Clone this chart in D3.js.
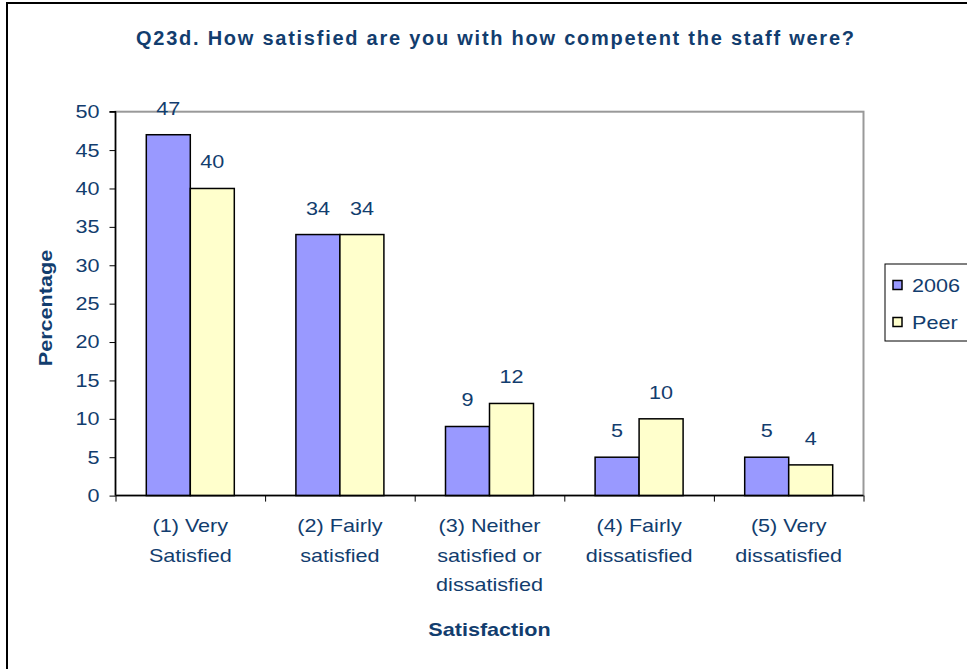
<!DOCTYPE html>
<html><head><meta charset="utf-8">
<script src="https://cdn.jsdelivr.net/npm/d3@7"></script>
<style>
html,body{margin:0;padding:0;background:#fff;}
svg{display:block;}
text{font-family:"Liberation Sans",Arial,sans-serif;}
</style></head>
<body>
<svg id="chart" width="967" height="669"></svg>
<script>
const categories = [["(1) Very","Satisfied"],["(2) Fairly","satisfied"],["(3) Neither","satisfied or","dissatisfied"],["(4) Fairly","dissatisfied"],["(5) Very","dissatisfied"]];
const seriesNames = ["2006","Peer"];
const values2006 = [47,34,9,5,5];
const valuesPeer = [40,34,12,10,4];
const yTicks = [0,5,10,15,20,25,30,35,40,45,50];
const colors = ["#9999FF","#FFFFCC"];
const textColor = "#123d6e";
const SX = 1.2;

const svg = d3.select("#chart");
svg.append("rect").attr("x",7).attr("y",3).attr("width",980).attr("height",700)
  .attr("fill","#fff").attr("stroke","#000").attr("stroke-width",2);

function txt(parent, x, y, s, o={}) {
  return parent.append("text")
    .attr("transform", `translate(${x},${y})${o.rotate?` rotate(${o.rotate})`:""} scale(${SX},1)`)
    .attr("text-anchor", o.anchor||"middle")
    .attr("font-size", o.size||18)
    .attr("font-weight", o.weight||"normal")
    .attr("fill", textColor).text(s);
}

const m = {left:115.5, right:863.5, top:111.7, bottom:495.6};
const x0 = d3.scaleBand().domain(d3.range(categories.length)).range([m.left,m.right]).paddingInner(0).paddingOuter(0);
const y = d3.scaleLinear().domain([0,50]).range([m.bottom,m.top]);
const bw = x0.bandwidth()/3.4;
const x1 = d3.scaleBand().domain([0,1]).range([x0.bandwidth()/2-bw, x0.bandwidth()/2+bw]).padding(0);

svg.append("rect").attr("x",m.left).attr("y",m.top).attr("width",m.right-m.left).attr("height",m.bottom-m.top)
  .attr("fill","#fff").attr("stroke","#999").attr("stroke-width",2);

// title
svg.append("text").attr("x",495).attr("y",45).attr("text-anchor","middle")
  .attr("font-size",20).attr("font-weight","bold").attr("fill",textColor)
  .attr("textLength",718).attr("lengthAdjust","spacing")
  .text("Q23d. How satisfied are you with how competent the staff were?");

// bars
const series = [values2006, valuesPeer];
series.forEach((vals,si)=>{
  svg.append("g").selectAll("rect").data(vals).join("rect")
    .attr("x",(d,i)=>x0(i)+x1(si)).attr("width",x1.bandwidth())
    .attr("y",d=>y(d)).attr("height",d=>y(0)-y(d))
    .attr("fill",colors[si]).attr("stroke","#000").attr("stroke-width",1.5);
  const g = svg.append("g");
  vals.forEach((d,i)=>txt(g, x0(i)+x1(si)+x1.bandwidth()/2, y(d)-20, d));
});

// y axis
const yAxis = d3.axisLeft(y).tickValues(yTicks).tickSize(6).tickPadding(10);
const gy = svg.append("g").attr("transform",`translate(${m.left},0)`).call(yAxis);
gy.select(".domain").attr("stroke","#000").attr("stroke-width",1.5).attr("d",`M-6,${m.top}H0V${m.bottom}`);
gy.selectAll(".tick line").attr("stroke","#000");
gy.selectAll(".tick text").attr("font-size",18).attr("fill",textColor)
  .attr("font-family","Liberation Sans, Arial, sans-serif").attr("dy","0.33em")
  .attr("x",-16/SX).attr("transform",`scale(${SX},1)`);

// x axis
const xAxis = d3.axisBottom(d3.scaleLinear().domain([0,5]).range([m.left,m.right])).tickValues([0,1,2,3,4,5]).tickSize(6).tickFormat("");
const gx = svg.append("g").attr("transform",`translate(0,${m.bottom})`).call(xAxis);
gx.select(".domain").attr("stroke","#000").attr("stroke-width",1.5).attr("d",`M${m.left},0H${m.right}`);
gx.selectAll(".tick line").attr("stroke","#000");

const lab = svg.append("g");
categories.forEach((lines,i)=>{
  lines.forEach((ln,j)=>txt(lab, x0(i)+x0.bandwidth()/2, 532+j*29.5, ln));
});

// axis titles
txt(svg, (m.left+m.right)/2, 636, "Satisfaction", {weight:"bold"});
txt(svg, 52, 308, "Percentage", {weight:"bold", rotate:-90});

// legend
const lg = svg.append("g");
lg.append("rect").attr("x",885).attr("y",264).attr("width",100).attr("height",77).attr("fill","#fff").attr("stroke","#000").attr("stroke-width",1);
seriesNames.forEach((n,i)=>{
  const cy = 285+i*37;
  lg.append("rect").attr("x",893).attr("y",cy-4.5).attr("width",9).attr("height",9).attr("fill",colors[i]).attr("stroke","#000").attr("stroke-width",1.5);
  txt(lg, 912, cy+6.5, n, {anchor:"start"});
});
</script>
</body></html>
